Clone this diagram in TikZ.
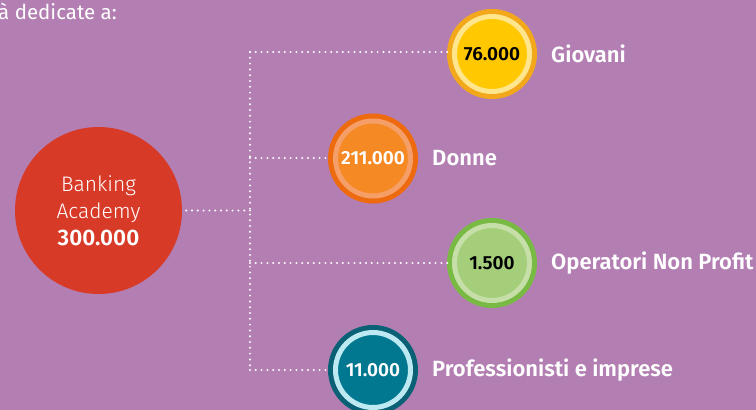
\documentclass[tikz,border=0pt]{standalone}
\usepackage{fontspec}
\setmainfont{Fira Sans}
\newfontfamily\lightfont{Fira Sans Light}
\newfontfamily\semifont{Fira Sans SemiBold}
\usetikzlibrary{positioning}
\definecolor{bgpurple}{HTML}{B37FB3}
\definecolor{hubred}{HTML}{D83A28}
\definecolor{yelouter}{HTML}{F3A71B}
\definecolor{yelring}{HTML}{FFE68C}
\definecolor{yelfill}{HTML}{FFC800}
\definecolor{orgouter}{HTML}{EE6A0E}
\definecolor{orgring}{HTML}{F59E68}
\definecolor{orgfill}{HTML}{F58A24}
\definecolor{grnouter}{HTML}{79BA44}
\definecolor{grnring}{HTML}{C6DFA8}
\definecolor{grnfill}{HTML}{A4CE7A}
\definecolor{tealouter}{HTML}{0A6075}
\definecolor{tealring}{HTML}{BDEAF2}
\definecolor{tealfill}{HTML}{027790}
\tikzset{
  dots/.style={draw=white, line width=2.2pt, line cap=round, dash pattern=on 0pt off 5.8pt},
  bubble/.style n args={3}{circle, minimum size=75pt, inner sep=0pt, fill=#3, draw=#2,
    line width=5pt, preaction={draw=#1, line width=15pt},
    font=\semifont\fontsize{19}{19}\selectfont},
  tag/.style={text=white, inner sep=0pt, anchor=west, font=\semifont\fontsize{22}{22}\selectfont},
}
\begin{document}
\begin{tikzpicture}[x=1pt,y=-1pt]
    \fill[bgpurple] (0,0) rectangle (756,410);
    \useasboundingbox (0,0) rectangle (756,410);
    \clip (0,0) rectangle (756,410);
    % intro line, cut at the left edge
    \node[anchor=base west, inner sep=0pt, text=white, font=\fontsize{20.5}{20.5}\selectfont] (intro) at (-2,19) {à dedicate a:};
    % hub
    \node[circle, fill=hubred, minimum size=167pt, inner sep=0pt, text=white, align=center,
          font=\lightfont\fontsize{21}{27}\selectfont] (hub) at (98.5,210.5)
          {Banking\\Academy\\{\semifont\fontsize{22.5}{27}\selectfont 300.000}};
    % groups
    \node[bubble={yelouter}{yelring}{yelfill}, text=black] (giovani) at (492,54) {76.000};
    \node[bubble={orgouter}{orgring}{orgfill}, text=white] (donne) at (373,158.5) {211.000};
    \node[bubble={grnouter}{grnring}{grnfill}, text=black] (nonprofit) at (492,263) {1.500};
    \node[bubble={tealouter}{tealring}{tealfill}, text=white] (imprese) at (373,370) {11.000};
    \node[tag, right=19pt of giovani] (lgiovani) {Giovani};
    \node[tag, right=19pt of donne] (ldonne) {Donne};
    \node[tag, right=19pt of nonprofit] (lnonprofit) {Operatori Non Profit};
    \node[tag, right=19pt of imprese] (limprese) {Professionisti e imprese};
    % dotted tree
    \coordinate (j) at (250,210.5);
    \coordinate (t1) at (250,52);
    \coordinate (t2) at (250,158);
    \coordinate (t3) at (250,263);
    \coordinate (t4) at (250,370);
    \draw[dots, shorten <=4pt] (hub.east) -- (j);
    \draw[dots] (t1) -- (t4);
    \draw[dots, shorten >=4pt] (t1) -- (giovani.west |- t1);
    \draw[dots, shorten >=4pt] (t2) -- (donne.west |- t2);
    \draw[dots, shorten >=4pt] (t3) -- (nonprofit.west |- t3);
    \draw[dots, shorten >=4pt] (t4) -- (imprese.west |- t4);
\end{tikzpicture}
\end{document}
